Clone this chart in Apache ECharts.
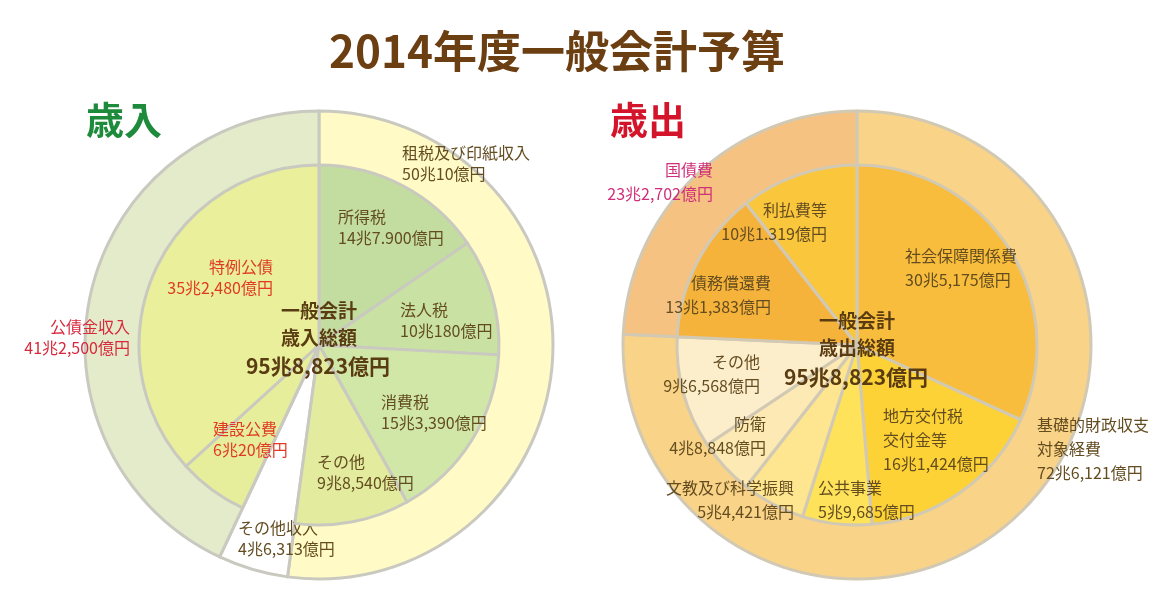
<!DOCTYPE html>
<html><head><meta charset="utf-8">
<script src="https://cdn.jsdelivr.net/npm/echarts@6/dist/echarts.min.js"></script>
<style>html,body{margin:0;padding:0;background:#fff}#c{width:1165px;height:600px}</style>
</head><body><div id="c"></div>
<script>
// ---- data (億円) ----
const revOuterNames = ['租税及び印紙収入', 'その他収入', '公債金収入'];
const revOuterValues = [500010, 46313, 412500];
const revOuterAmounts = ['50兆10億円', '4兆6,313億円', '41兆2,500億円'];

const revInnerNames = ['所得税', '法人税', '消費税', 'その他', 'その他収入', '建設公費', '特例公債'];
const revInnerValues = [147900, 100180, 153390, 98540, 46313, 60020, 352480];
const revInnerAmounts = ['14兆7.900億円', '10兆180億円', '15兆3,390億円', '9兆8,540億円', '', '6兆20億円', '35兆2,480億円'];

const expOuterNames = ['基礎的財政収支\n対象経費', '国債費'];
const expOuterValues = [726121, 232702];
const expOuterAmounts = ['72兆6,121億円', '23兆2,702億円'];

const expInnerNames = ['社会保障関係費', '地方交付税\n交付金等', '公共事業', '文教及び科学振興', '防衛', 'その他', '債務償還費', '利払費等'];
const expInnerValues = [305175, 161424, 59685, 54421, 48848, 96568, 131383, 101319];
const expInnerAmounts = ['30兆5,175億円', '16兆1,424億円', '5兆9,685億円', '5兆4,421億円', '4兆8,848億円', '9兆6,568億円', '13兆1,383億円', '10兆1.319億円'];

const totalText = '95兆8,823億円';
const titleText = '2014年度一般会計予算';

// ---- styles ----
const FONT = '"Noto Sans CJK JP", sans-serif';
const TXT = '#634c20';
const revOuterColors = ['#fffac6', '#ffffff', '#e3ebcb'];
const revInnerColors = ['#c3dc9f', '#c9e2a4', '#d0e7a8', '#e3ec9e', 'rgba(0,0,0,0)', '#e7ee9b', '#e9ef9a'];
const revOuterTextColors = [TXT, TXT, '#d8283c'];
const revInnerTextColors = [TXT, TXT, TXT, TXT, TXT, '#e03a26', '#e03a26'];
const expOuterColors = ['#f9d387', '#f5c281'];
const expInnerColors = ['#f8bd3c', '#fdd236', '#fde25a', '#fee590', '#fde9b4', '#fdeecb', '#f6b33c', '#f9c63c'];
const expOuterTextColors = [TXT, '#d0307a'];

// label anchor positions [x, y(middle), align]
const revOuterPos = [[402, 163, 'left'], [238, 538, 'left'], [130, 337, 'right']];
const revInnerPos = [[338, 227, 'left'], [400, 320, 'left'], [381, 412, 'left'], [317, 472, 'left'], null, [213, 439, 'left'], [273, 277, 'right']];
const expOuterPos = [[1037, 449, 'left'], [713, 182, 'right']];
const expInnerPos = [[905, 268, 'left'], [883, 440, 'left'], [818, 500, 'left'], [794, 500, 'right'], [766, 436, 'right'], [760, 374, 'right'], [771, 295, 'right'], [827, 222, 'right']];

const BORDER = '#c9c9c0';

function build(names, values, amounts, colors, textColors) {
  return names.map((n, i) => ({
    name: n,
    value: values[i],
    itemStyle: { color: colors[i] },
    label: amounts[i] ? { formatter: n + '\n' + amounts[i], color: textColors[i] } : { show: false }
  }));
}

function pie(center, radius, data, pos, lh, border, z, transparentIdx) {
  return {
    type: 'pie', center: center, radius: radius, startAngle: 90, clockwise: true,
    z: z, silent: true, animation: false, avoidLabelOverlap: false,
    data: data.map((d, i) => i === transparentIdx ? Object.assign({}, d, { itemStyle: { color: 'rgba(0,0,0,0)', borderWidth: 0 } }) : d),
    itemStyle: { borderColor: border, borderWidth: 3 },
    label: { show: true, position: 'inside', fontFamily: FONT, fontSize: 16, lineHeight: lh, color: TXT },
    labelLine: { show: false },
    labelLayout: function (p) {
      const q = pos[p.dataIndex];
      if (!q) return {};
      return { x: q[0], y: q[1], align: q[2], verticalAlign: 'middle' };
    },
    emphasis: { disabled: true }
  };
}

const L = [319, 345], R = [857, 345];
const RO = 234, RI = 180;

const option = {
  backgroundColor: '#ffffff',
  animation: false,
  series: [
    pie(L, [0, RO], build(revOuterNames, revOuterValues, revOuterAmounts, revOuterColors, revOuterTextColors), revOuterPos, 21, BORDER, 1),
    pie(L, [0, RI], build(revInnerNames, revInnerValues, revInnerAmounts, revInnerColors, revInnerTextColors), revInnerPos, 21, BORDER, 2, 4),
    pie(R, [0, RO], build(expOuterNames, expOuterValues, expOuterAmounts, expOuterColors, expOuterTextColors), expOuterPos, 24, '#d2c9b4', 1),
    pie(R, [0, RI], build(expInnerNames, expInnerValues, expInnerAmounts, expInnerColors, expInnerColors.map(() => TXT)), expInnerPos, 24, '#d2c9b4', 2)
  ],
  graphic: [
    { type: 'text', x: 557, y: 51, z: 10, style: { text: titleText, font: 'bold 44px ' + FONT, fill: '#6b3f12', align: 'center', verticalAlign: 'middle' } },
    { type: 'text', x: 86, y: 120, z: 10, style: { text: '歳入', font: 'bold 38px ' + FONT, fill: '#1d8a3c', align: 'left', verticalAlign: 'middle' } },
    { type: 'text', x: 610, y: 120, z: 10, style: { text: '歳出', font: 'bold 38px ' + FONT, fill: '#d3142a', align: 'left', verticalAlign: 'middle' } },
    { type: 'text', x: 319, y: 311, z: 10, style: { text: '一般会計', font: 'bold 19px ' + FONT, fill: '#5a3c12', align: 'center', verticalAlign: 'middle' } },
    { type: 'text', x: 319, y: 338, z: 10, style: { text: '歳入総額', font: 'bold 19px ' + FONT, fill: '#5a3c12', align: 'center', verticalAlign: 'middle' } },
    { type: 'text', x: 318, y: 366, z: 10, style: { text: totalText, font: 'bold 21px ' + FONT, fill: '#5a3c12', align: 'center', verticalAlign: 'middle' } },
    { type: 'text', x: 857, y: 321, z: 10, style: { text: '一般会計', font: 'bold 19px ' + FONT, fill: '#5a3c12', align: 'center', verticalAlign: 'middle' } },
    { type: 'text', x: 857, y: 348, z: 10, style: { text: '歳出総額', font: 'bold 19px ' + FONT, fill: '#5a3c12', align: 'center', verticalAlign: 'middle' } },
    { type: 'text', x: 856, y: 377, z: 10, style: { text: totalText, font: 'bold 21px ' + FONT, fill: '#5a3c12', align: 'center', verticalAlign: 'middle' } }
  ]
};

const chart = echarts.init(document.getElementById('c'), null, { renderer: 'canvas' });
chart.setOption(option);
</script>
</body></html>
